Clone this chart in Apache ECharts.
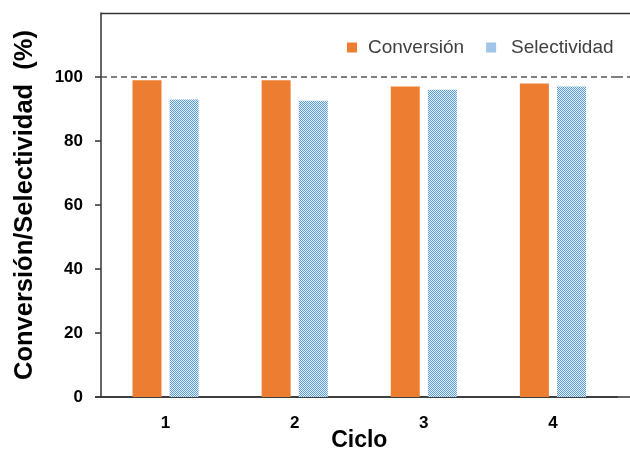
<!DOCTYPE html>
<html>
<head>
<meta charset="utf-8">
<script src="https://cdn.jsdelivr.net/npm/echarts@6/dist/echarts.min.js"></script>
<style>html,body{margin:0;padding:0;background:#fff}#c{width:630px;height:452px}</style>
</head>
<body>
<div id="c"></div>
<script>
var categories = ['1', '2', '3', '4'];
var conversion = [99, 99, 97, 98];
var selectivity = [93, 92.6, 96, 97];
var yTicks = [0, 20, 40, 60, 80, 100];
var refValue = 100;

function makePattern() {
  var c = document.createElement('canvas');
  c.width = 2; c.height = 2;
  var g = c.getContext('2d');
  g.fillStyle = '#e6f0fb'; g.fillRect(0, 0, 2, 2);
  g.fillStyle = '#5b9bd5'; g.fillRect(0, 0, 1, 1); g.fillRect(1, 1, 1, 1);
  return c;
}
var pattern = { image: makePattern(), repeat: 'repeat' };

var chart = echarts.init(document.getElementById('c'), null, { renderer: 'canvas' });
var FONT = 'Liberation Sans';
chart.setOption({
  animation: false,
  backgroundColor: '#ffffff',
  grid: { left: 101, right: 12.5, top: 13, bottom: 55, outerBoundsMode: 'none', containLabel: false },
  legend: {
    left: 342, top: 33,
    itemWidth: 10, itemHeight: 10, itemGap: 22,
    icon: 'rect',
    textStyle: { fontFamily: FONT, fontSize: 19, color: '#404040', padding: [0, 0, 0, 6] },
    data: [
      { name: 'Conversión' },
      { name: 'Selectividad', textStyle: { padding: [0, 0, 0, 10] } }
    ]
  },
  xAxis: {
    type: 'category',
    data: categories,
    name: 'Ciclo',
    nameLocation: 'middle',
    nameGap: 32,
    nameMoveOverlap: false,
    nameTextStyle: { fontFamily: FONT, fontSize: 23, fontWeight: 'bold', color: '#000' },
    axisLine: { lineStyle: { color: '#333', width: 1.5 } },
    axisTick: { alignWithLabel: true, length: 5, lineStyle: { color: '#333', width: 1.5 } },
    axisLabel: { fontFamily: FONT, fontSize: 17, fontWeight: 'bold', color: '#000', margin: 18 }
  },
  yAxis: {
    type: 'value',
    min: 0, max: 120, interval: 20,
    name: 'Conversión/Selectividad  (%)',
    nameLocation: 'middle',
    nameGap: 63,
    nameMoveOverlap: false,
    nameTextStyle: { fontFamily: FONT, fontSize: 25.5, fontWeight: 'bold', color: '#000' },
    axisLine: { show: true, lineStyle: { color: '#333', width: 1.5 } },
    axisTick: { show: true, length: 6, customValues: yTicks, lineStyle: { color: '#333', width: 1.5 } },
    axisLabel: { fontFamily: FONT, fontSize: 17, fontWeight: 'bold', color: '#000', margin: 18, customValues: yTicks },
    splitLine: { show: false }
  },
  series: [
    {
      name: 'Conversión', type: 'bar', data: conversion,
      barWidth: 29, barGap: '28%',
      itemStyle: { color: '#ed7d31' },
      markLine: {
        silent: true, symbol: 'none', label: { show: false },
        lineStyle: { color: '#555', type: [6, 4], width: 1.5 },
        data: [{ yAxis: refValue }]
      }
    },
    {
      name: 'Selectividad', type: 'bar', data: selectivity,
      barWidth: 29,
      itemStyle: { color: pattern }
    }
  ],
  graphic: [
    { type: 'line', shape: { x1: 101, y1: 13.5, x2: 630, y2: 13.5 }, style: { stroke: '#333', lineWidth: 1.5 } },
    { type: 'line', shape: { x1: 95, y1: 397, x2: 630, y2: 397 }, style: { stroke: '#333', lineWidth: 1.5 } },
    { type: 'line', shape: { x1: 617, y1: 77, x2: 630, y2: 77 }, style: { stroke: '#555', lineWidth: 1.5, lineDash: [6, 4] } }
  ]
});
</script>
</body>
</html>
